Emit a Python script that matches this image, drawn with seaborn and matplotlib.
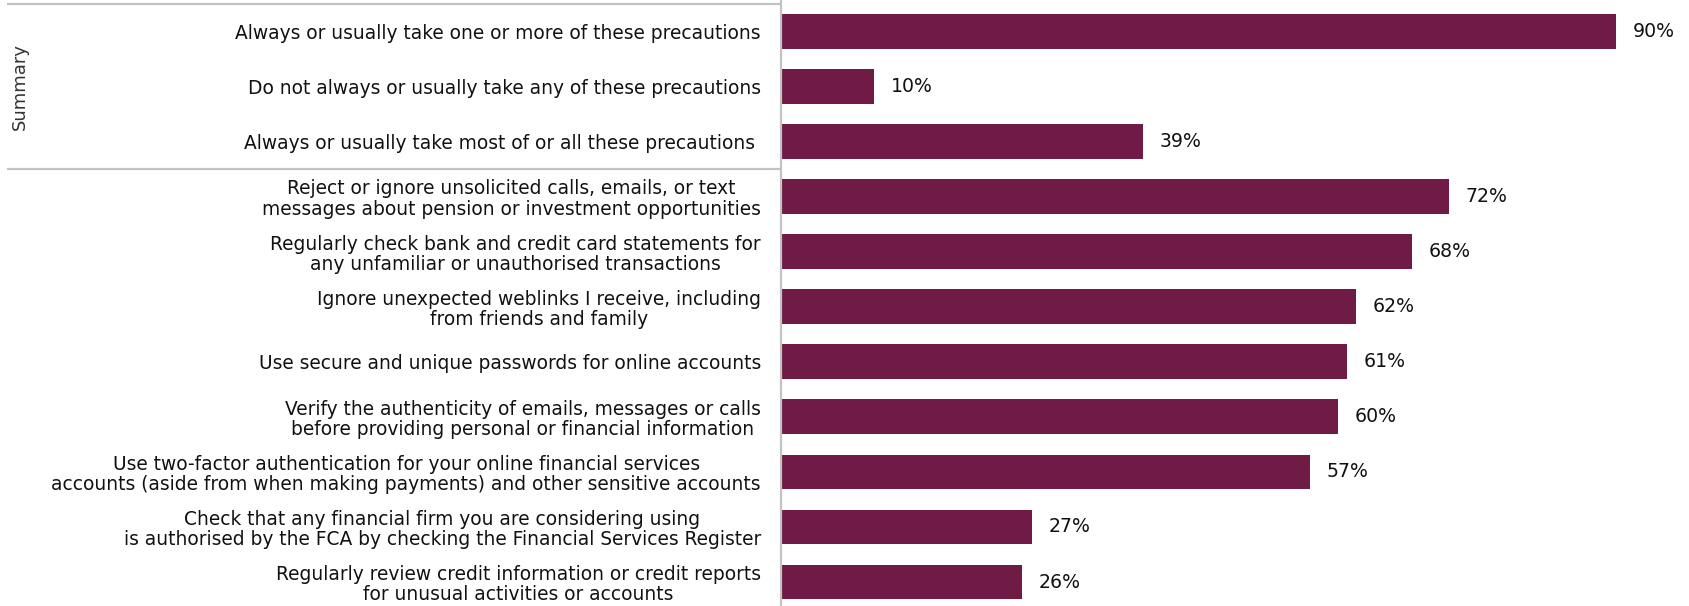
import matplotlib
matplotlib.use("Agg")
import matplotlib.pyplot as plt
import matplotlib.transforms as mtransforms
import seaborn as sns
import pandas as pd

# Share of respondents taking each fraud precaution
categories = [
    "Always or usually take one or more of these precautions",
    "Do not always or usually take any of these precautions",
    "Always or usually take most of or all these precautions ",
    "Reject or ignore unsolicited calls, emails, or text\nmessages about pension or investment opportunities",
    "Regularly check bank and credit card statements for\nany unfamiliar or unauthorised transactions",
    "Ignore unexpected weblinks I receive, including\nfrom friends and family",
    "Use secure and unique passwords for online accounts",
    "Verify the authenticity of emails, messages or calls\nbefore providing personal or financial information",
    "Use two-factor authentication for your online financial services\naccounts (aside from when making payments) and other sensitive accounts",
    "Check that any financial firm you are considering using\nis authorised by the FCA by checking the Financial Services Register",
    "Regularly review credit information or credit reports\nfor unusual activities or accounts",
]
values = [90, 10, 39, 72, 68, 62, 61, 60, 57, 27, 26]
group_label = "Summary"
n_summary = 3

BAR = "#6f1b45"
RULE = "#c3c3c3"
TEXT = "#111111"

sns.set_theme(style="white")
plt.rcParams["font.family"] = ["DejaVu Sans"]

df = pd.DataFrame({"category": categories, "value": values})

fig = plt.figure(figsize=(16.9, 6.06), dpi=100)
ax = fig.add_axes([781 / 1690, 0.0, 1 - 781 / 1690, 1.0])

sns.barplot(data=df, x="value", y="category", orient="h", color=BAR,
            width=0.63, saturation=1, ax=ax, edgecolor="none")

ax.set_xlim(0, 97.97)
ax.set_ylim(10.435, -0.566)
ax.set_xlabel("")
ax.set_ylabel("")
ax.set_xticks([])
ax.tick_params(axis="y", length=0, pad=14.5, labelsize=13.4, labelcolor=TEXT)
for lab in ax.get_yticklabels():
    lab.set_multialignment("center")
    lab.set_linespacing(1.08)

for s in ["top", "right", "bottom"]:
    ax.spines[s].set_visible(False)
ax.spines["left"].set_color(RULE)
ax.spines["left"].set_linewidth(1.6)

# value labels at the end of each bar
for cont in ax.containers:
    ax.bar_label(cont, labels=[f"{v:.0f}%" for v in values], padding=12,
                 fontsize=13.6, color=TEXT)

# group rules and the "Summary" group label
trans = mtransforms.blended_transform_factory(fig.transFigure, ax.transData)
for yy in (-0.5, n_summary - 0.5):
    ax.plot([7 / 1690, 781 / 1690], [yy, yy], transform=trans, color=RULE,
            lw=1.6, clip_on=False, solid_capstyle="butt")
ax.text(20 / 1690, (n_summary - 1) / 2, group_label, transform=trans,
        rotation=90, ha="center", va="center", fontsize=13, color="#333333")

fig.savefig("out.png", dpi=100)
